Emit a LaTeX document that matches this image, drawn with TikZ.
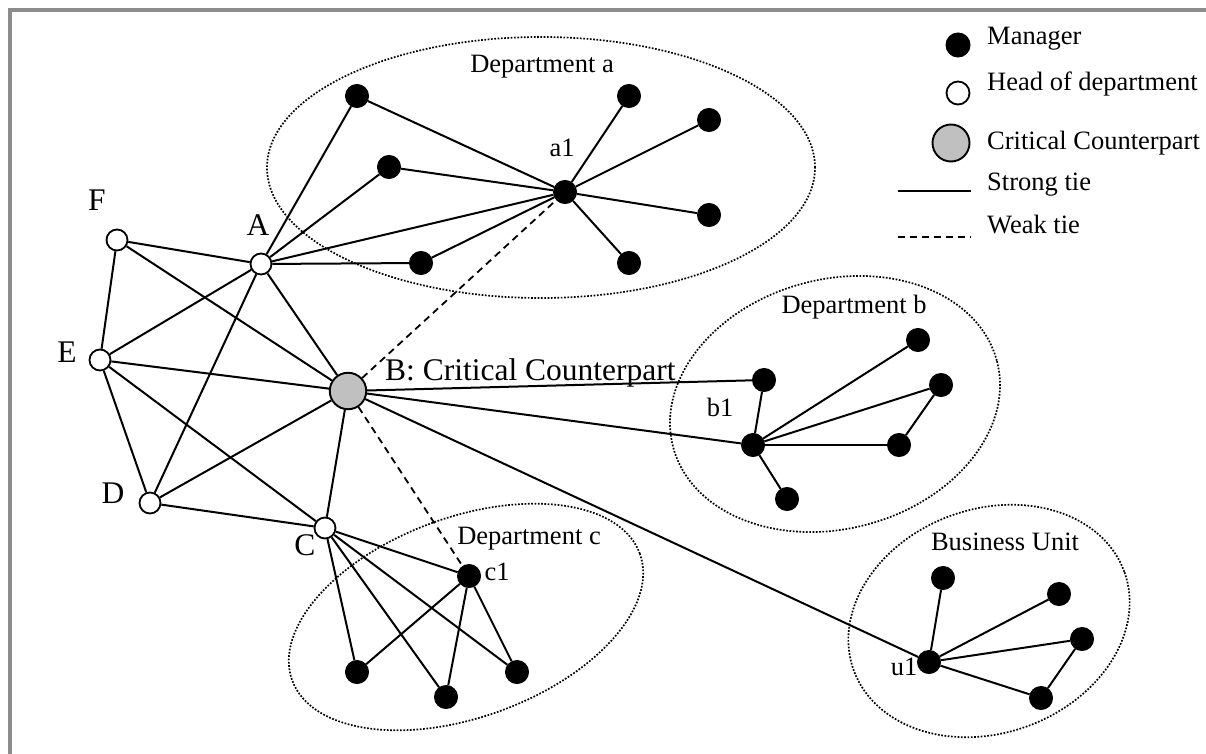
\documentclass[tikz,border=0pt]{standalone}
\usepackage{fontspec}
\setmainfont{Liberation Serif}
\definecolor{bordergray}{HTML}{8C8C8C}
\definecolor{critgray}{HTML}{C0C0C0}
\begin{document}
\begin{tikzpicture}[x=1pt,y=1pt,
  mgr/.style={circle,fill=black,draw=black,line width=1pt,inner sep=0pt,minimum size=23pt},
  headnode/.style={circle,fill=white,draw=black,line width=1.8pt,inner sep=0pt,minimum size=21pt},
  crit/.style={circle,fill=critgray,draw=black,line width=1.9pt,inner sep=0pt,minimum size=36.5pt},
  tie/.style={line width=2pt},
  weak/.style={line width=1.8pt,dash pattern=on 7pt off 5pt},
  dept/.style={line width=1.7pt,dash pattern=on 1.7pt off 1.6pt},
  biglbl/.style={font=\fontsize{31.5}{36}\selectfont,inner sep=0pt,anchor=base},
  smlbl/.style={font=\fontsize{26.5}{30}\selectfont,inner sep=0pt,anchor=base},
  leglbl/.style={font=\fontsize{26.5}{30}\selectfont,inner sep=0pt,anchor=base west}
]
\useasboundingbox (0,0) rectangle (1206,-754);
\fill[white] (0,0) rectangle (1206,-754);
% frame
\draw[bordergray,line width=4pt] (9.5,-754) -- (9.5,-10.5) -- (1206,-10.5);

% department ellipses
\draw[dept] (541,-167.5) ellipse [x radius=274pt, y radius=130.5pt];
\draw[dept,rotate around={15:(835,-404)}] (835,-404) ellipse [x radius=167.5pt, y radius=124.7pt];
\draw[dept,rotate around={20:(466,-617)}] (466,-617) ellipse [x radius=185pt, y radius=100pt];
\draw[dept,rotate around={20:(989,-621)}] (989,-621) ellipse [x radius=144pt, y radius=112pt];

% labels
\node[biglbl] (lF) at (97,-210) {F};
\node[biglbl] (lA) at (258,-235) {A};
\node[biglbl] (lE) at (67,-362) {E};
\node[biglbl] (lD) at (113,-503) {D};
\node[biglbl] (lC) at (305,-555) {C};
\node[biglbl,anchor=base west] (lB) at (385,-380) {B: Critical Counterpart};
\node[smlbl] (la1) at (562,-157) {a1};
\node[smlbl] (lb1) at (720,-416) {b1};
\node[smlbl] (lc1) at (497,-580) {c1};
\node[smlbl] (lu1) at (904,-675) {u1};
\node[smlbl] (lda) at (542,-73) {Department a};
\node[smlbl] (ldb) at (854,-313) {Department b};
\node[smlbl] (ldc) at (529,-544) {Department c};
\node[smlbl] (ldu) at (1005,-550) {Business Unit};

% head nodes
\node[headnode] (F) at (117,-240) {};
\node[headnode] (A) at (261,-264) {};
\node[headnode] (E) at (100,-360) {};
\node[headnode] (D) at (150,-503) {};
\node[headnode] (C) at (325,-528) {};
\node[crit] (B) at (348,-391) {};

% department a
\node[mgr] (m1) at (357,-96) {};
\node[mgr] (m2) at (389,-167) {};
\node[mgr] (m3) at (421,-263) {};
\node[mgr] (a1) at (565,-192) {};
\node[mgr] (m4) at (629,-96) {};
\node[mgr] (m5) at (709,-120) {};
\node[mgr] (m6) at (709,-215) {};
\node[mgr] (m7) at (629,-263) {};

% department b
\node[mgr] (bt) at (764,-380) {};
\node[mgr] (b1) at (753,-445) {};
\node[mgr] (b2) at (918,-340) {};
\node[mgr] (b3) at (941,-385) {};
\node[mgr] (b4) at (899,-445) {};
\node[mgr] (b5) at (787,-499) {};

% department c
\node[mgr] (c1) at (469,-576) {};
\node[mgr] (cA) at (357,-672) {};
\node[mgr] (cB) at (446,-697) {};
\node[mgr] (cC) at (517,-672) {};

% business unit
\node[mgr] (u1) at (929,-662) {};
\node[mgr] (ut) at (943,-578) {};
\node[mgr] (u2) at (1059,-594) {};
\node[mgr] (u3) at (1082,-639) {};
\node[mgr] (u4) at (1041,-698) {};

% strong ties among heads
\draw[tie] (F) -- (A);
\draw[tie] (F) -- (E);
\draw[tie] (F) -- (B);
\draw[tie] (A) -- (E);
\draw[tie] (A) -- (D);
\draw[tie] (A) -- (B);
\draw[tie] (E) -- (B);
\draw[tie] (E) -- (D);
\draw[tie] (E) -- (C);
\draw[tie] (D) -- (B);
\draw[tie] (D) -- (C);
\draw[tie] (C) -- (B);

% department a ties
\draw[tie] (A) -- (m1);
\draw[tie] (A) -- (m2);
\draw[tie] (A) -- (a1);
\draw[tie] (A) -- (m3);
\draw[tie] (m1) -- (a1);
\draw[tie] (m2) -- (a1);
\draw[tie] (m3) -- (a1);
\draw[tie] (a1) -- (m4);
\draw[tie] (a1) -- (m5);
\draw[tie] (a1) -- (m6);
\draw[tie] (a1) -- (m7);

% department b ties
\draw[tie] (B) -- (bt);
\draw[tie] (B) -- (b1);
\draw[tie] (bt) -- (b1);
\draw[tie] (b1) -- (b2);
\draw[tie] (b1) -- (b3);
\draw[tie] (b1) -- (b4);
\draw[tie] (b3) -- (b4);
\draw[tie] (b1) -- (b5);

% department c ties
\draw[tie] (C) -- (c1);
\draw[tie] (C) -- (cA);
\draw[tie] (C) -- (cB);
\draw[tie] (C) -- (cC);
\draw[tie] (c1) -- (cA);
\draw[tie] (c1) -- (cB);
\draw[tie] (c1) -- (cC);

% business unit ties
\draw[tie] (B) -- (u1);
\draw[tie] (u1) -- (ut);
\draw[tie] (u1) -- (u2);
\draw[tie] (u1) -- (u3);
\draw[tie] (u1) -- (u4);
\draw[tie] (u3) -- (u4);

% weak ties
\draw[weak] (B) -- (a1);
\draw[weak] (B) -- (c1);

% legend
\node[mgr,minimum size=24pt] (legM) at (958,-45) {};
\node[headnode,minimum size=23pt] (legH) at (958,-93) {};
\node[crit,minimum size=37pt] (legC) at (951,-143) {};
\coordinate (sA) at (898,-191);
\coordinate (sB) at (971,-191);
\coordinate (wA) at (898,-237);
\coordinate (wB) at (971,-237);
\draw[tie] (sA) -- (sB);
\draw[weak] (wA) -- (wB);
\node[leglbl] (tM) at (987,-45) {Manager};
\node[leglbl] (tH) at (987,-91) {Head of department};
\node[leglbl] (tC) at (987,-150) {Critical Counterpart};
\node[leglbl] (tS) at (987,-190) {Strong tie};
\node[leglbl] (tW) at (987,-233) {Weak tie};
\end{tikzpicture}
\end{document}
